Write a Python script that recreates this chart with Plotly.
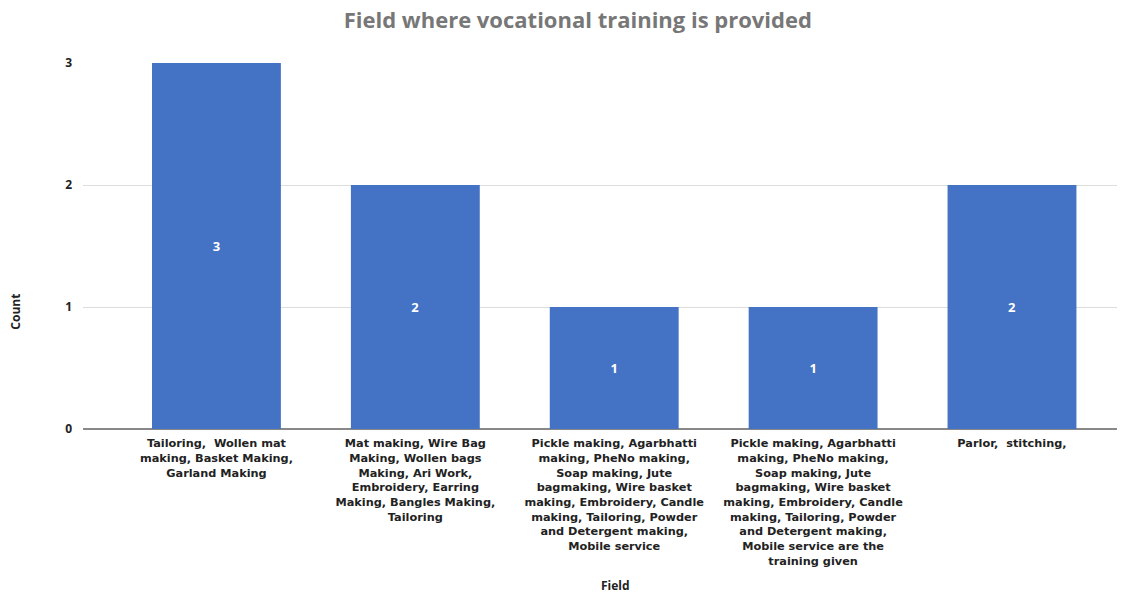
import plotly.graph_objects as go

# Training fields (one line per wrapped row) and the number of responses for each
fields = [
    "Tailoring,  Wollen mat<br>making, Basket Making,<br>Garland Making",
    "Mat making, Wire Bag<br>Making, Wollen bags<br>Making, Ari Work,<br>Embroidery, Earring<br>Making, Bangles Making,<br>Tailoring",
    "Pickle making, Agarbhatti<br>making, PheNo making,<br>Soap making, Jute<br>bagmaking, Wire basket<br>making, Embroidery, Candle<br>making, Tailoring, Powder<br>and Detergent making,<br>Mobile service",
    "Pickle making, Agarbhatti<br>making, PheNo making,<br>Soap making, Jute<br>bagmaking, Wire basket<br>making, Embroidery, Candle<br>making, Tailoring, Powder<br>and Detergent making,<br>Mobile service are the<br>training given",
    "Parlor,  stitching,",
]
counts = [3, 2, 1, 1, 2]
y_ticks = [0, 1, 2, 3]

FONT = "Open Sans"
TICK_FONT = "DejaVu Sans"
BAR_COLOR = "#4472C4"

fig = go.Figure(
    go.Bar(
        x=list(range(len(fields))),
        y=counts,
        width=0.648,
        marker=dict(color=BAR_COLOR, line=dict(width=0)),
        text=[f"<b>{c}</b>" for c in counts],
        textposition="inside",
        insidetextanchor="middle",
        textangle=0,
        textfont=dict(family=FONT, size=13, color="white"),
        hoverinfo="skip",
    )
)

fig.update_layout(
    width=1133,
    height=595,
    margin=dict(l=83, r=16, t=63, b=166),
    paper_bgcolor="white",
    plot_bgcolor="white",
    showlegend=False,
    font=dict(family=FONT, color="#222222"),
    title=dict(
        text="<b>Field where vocational training is provided</b>",
        x=0.51,
        xanchor="center",
        y=0.966,
        yanchor="middle",
        font=dict(family=FONT, size=22, color="#777777"),
    ),
)

fig.update_xaxes(
    tickmode="array",
    tickvals=list(range(len(fields))),
    ticktext=[f"<b>{f}</b>" for f in fields],
    tickfont=dict(family=TICK_FONT, size=11.3, color="#222222"),
    range=[-0.671, 4.528],
    showgrid=False,
    showline=False,
    ticks="",
    ticklabelstandoff=6,
    zeroline=False,
    automargin=False,
)

fig.update_yaxes(
    range=[0, 3],
    tickmode="array",
    tickvals=y_ticks,
    ticktext=[f"<b>{v}</b>" for v in y_ticks],
    tickfont=dict(family=FONT, size=12, color="#222222"),
    showgrid=True,
    gridcolor="#DDDDDD",
    gridwidth=1,
    zeroline=True,
    zerolinecolor="#888888",
    zerolinewidth=2,
    ticks="",
    ticklabelstandoff=10,
    automargin=False,
)

# Axis titles
fig.add_annotation(
    text="<b>Field</b>", xref="paper", yref="paper",
    x=0.515, y=-0.427, xanchor="center", yanchor="middle",
    showarrow=False, font=dict(family=FONT, size=12, color="#222222"),
)
fig.add_annotation(
    text="<b>Count</b>", xref="paper", yref="paper",
    x=-0.065, y=0.32, xanchor="center", yanchor="middle", textangle=-90,
    showarrow=False, font=dict(family=FONT, size=12, color="#222222"),
)

fig.write_html("out.html")
